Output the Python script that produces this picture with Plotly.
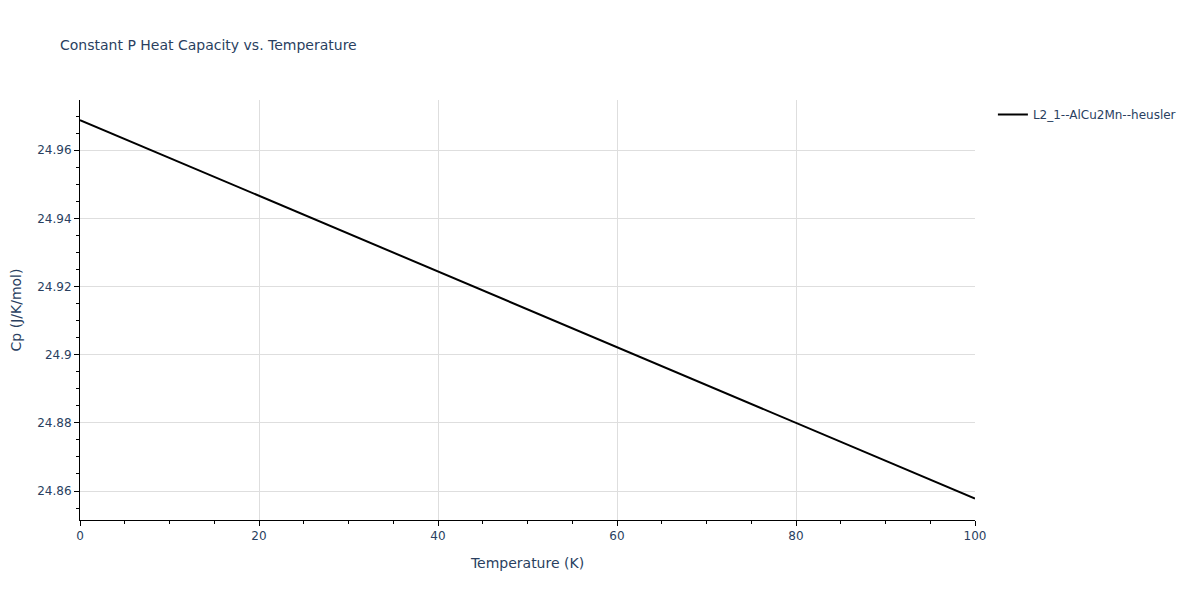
import plotly.graph_objects as go

temperature = [0, 10, 20, 30, 40, 50, 60, 70, 80, 90, 100]
cp = [24.9688, 24.9577, 24.9466, 24.9355, 24.9244, 24.9133, 24.9022, 24.8911, 24.8800, 24.8689, 24.8578]
series_name = "L2_1--AlCu2Mn--heusler"

fig = go.Figure()
fig.add_trace(go.Scatter(x=temperature, y=cp, mode="lines", name=series_name,
                         line=dict(color="black", width=2)))

font_family = "DejaVu Sans"
fig.update_layout(
    width=1200, height=600,
    template="plotly_white",
    font=dict(family=font_family, size=12, color="#2a3f5f"),
    title=dict(text="Constant P Heat Capacity vs. Temperature", x=52 / 1200, xanchor="left",
               y=1 - 37 / 600, yanchor="middle", font=dict(size=14)),
    showlegend=True,
    legend=dict(x=1.02, y=1, font=dict(size=12)),
    margin=dict(l=72, r=233, t=92, b=88, autoexpand=False),
    plot_bgcolor="white",
)
fig.update_xaxes(title_text="Temperature (K)", range=[0, 100], showline=True, linecolor="black",
                 linewidth=1, ticks="outside", tickcolor="black", ticklen=5,
                 showgrid=True, gridcolor="#dedede", zeroline=False, dtick=20,
                 minor=dict(ticks="outside", dtick=5, ticklen=3, tickcolor="black", showgrid=False))
fig.update_yaxes(title=dict(text="Cp (J/K/mol)", standoff=18), range=[24.8515, 24.9747], showline=True,
                 linecolor="black", linewidth=1, ticks="outside", tickcolor="black", ticklen=5,
                 showgrid=True, gridcolor="#dedede", zeroline=False, dtick=0.02,
                 minor=dict(ticks="outside", dtick=0.005, ticklen=3, tickcolor="black", showgrid=False))

fig.write_html("out.html")
